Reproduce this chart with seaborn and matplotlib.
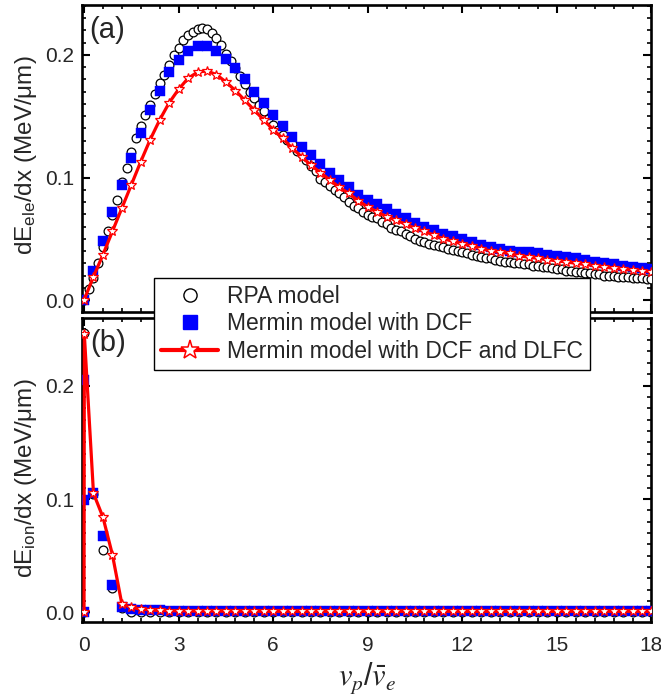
import numpy as np
import matplotlib
matplotlib.use("Agg")
import matplotlib.pyplot as plt
import seaborn as sns
from matplotlib.lines import Line2D
from matplotlib.ticker import MultipleLocator

# ---------------- data ----------------
# panel (a): electron stopping, RPA sampled every 0.15, Mermin curves every 0.3
rpa_ele = [
    0.000, 0.009, 0.018, 0.030, 0.043, 0.056, 0.069, 0.082, 0.096, 0.108,
    0.121, 0.132, 0.142, 0.151, 0.159, 0.168, 0.177, 0.184, 0.192, 0.200,
    0.206, 0.212, 0.216, 0.219, 0.221, 0.222, 0.221, 0.218, 0.214, 0.208,
    0.201, 0.195, 0.189, 0.183, 0.176, 0.170, 0.165, 0.159, 0.154, 0.148,
    0.143, 0.139, 0.135, 0.131, 0.127, 0.122, 0.119, 0.114, 0.109, 0.105,
    0.099, 0.096, 0.093, 0.090, 0.087, 0.084, 0.080, 0.077, 0.075, 0.072,
    0.069, 0.068, 0.067, 0.064, 0.062, 0.059, 0.057, 0.056, 0.054, 0.052,
    0.050, 0.048, 0.047, 0.046, 0.045, 0.044, 0.043, 0.042, 0.041, 0.040,
    0.039, 0.038, 0.037, 0.036, 0.035, 0.034, 0.034, 0.033, 0.032, 0.031,
    0.031, 0.030, 0.030, 0.029, 0.029, 0.028, 0.028, 0.027, 0.027, 0.026,
    0.025, 0.025, 0.024, 0.024, 0.023, 0.023, 0.022, 0.022, 0.021, 0.021,
    0.020, 0.020, 0.020, 0.019, 0.019, 0.019, 0.018, 0.018, 0.018, 0.017,
    0.017,
]
mermin_ele = [
    0.000, 0.024, 0.048, 0.072, 0.094, 0.116, 0.136, 0.155, 0.171, 0.186,
    0.196, 0.203, 0.207, 0.207, 0.203, 0.197, 0.189, 0.180, 0.170, 0.161,
    0.151, 0.142, 0.133, 0.125, 0.118, 0.111, 0.104, 0.098, 0.092, 0.086,
    0.082, 0.078, 0.074, 0.070, 0.067, 0.063, 0.060, 0.057, 0.054, 0.052,
    0.0495, 0.047, 0.045, 0.0435, 0.042, 0.040, 0.0395, 0.039, 0.038, 0.037,
    0.036, 0.035, 0.034, 0.033, 0.031, 0.030, 0.029, 0.028, 0.027, 0.026,
    0.025,
]
dlfc_ele = [
    0.000, 0.019, 0.037, 0.056, 0.075, 0.094, 0.113, 0.131, 0.147, 0.161,
    0.172, 0.181, 0.186, 0.187, 0.184, 0.178, 0.171, 0.163, 0.155, 0.147,
    0.139, 0.132, 0.124, 0.117, 0.110, 0.104, 0.098, 0.092, 0.087, 0.081,
    0.076, 0.072, 0.068, 0.065, 0.062, 0.0585, 0.056, 0.053, 0.050, 0.048,
    0.046, 0.044, 0.042, 0.040, 0.039, 0.038, 0.036, 0.035, 0.034, 0.033,
    0.032, 0.031, 0.030, 0.029, 0.028, 0.027, 0.026, 0.025, 0.0245, 0.024,
    0.023,
]
x_rpa_ele = np.round(np.arange(len(rpa_ele)) * 0.15, 2)
x_mer_ele = np.round(np.arange(len(mermin_ele)) * 0.3, 2)

# panel (b): ion stopping
x_ion_grid = list(np.round(np.arange(1, 61) * 0.3, 2))   # 0.3 ... 18.0
x_rpa_ion = [0.0, 0.01] + x_ion_grid
rpa_ion = [0.0, 0.246,
           0.104, 0.055, 0.022, 0.004, 0.0005, 0.0, 0.0, 0.0, 0.0, 0.0,
           0.0, 0.0, 0.0, 0.0, 0.0, 0.0, 0.0, 0.0, 0.0, 0.0,
           0.0, 0.0, 0.0, 0.0, 0.0, 0.0, 0.0, 0.0, 0.0, 0.0,
           0.0, 0.0, 0.0, 0.0, 0.0, 0.0, 0.0, 0.0, 0.0, 0.0,
           0.0, 0.0, 0.0, 0.0, 0.0, 0.0, 0.0, 0.0, 0.0, 0.0,
           0.0, 0.0, 0.0, 0.0, 0.0, 0.0, 0.0, 0.0, 0.0, 0.0]
x_mer_ion = [0.0, 0.005, 0.01] + x_ion_grid
mermin_ion = [0.0, 0.099, 0.205,
              0.105, 0.067, 0.0245, 0.005, 0.003, 0.0025, 0.002, 0.0018, 0.0016, 0.0015,
              0.0014, 0.0013, 0.0013, 0.0012, 0.0012, 0.0012, 0.0011, 0.0011, 0.0011, 0.0011,
              0.0010, 0.0010, 0.0010, 0.0010, 0.0010, 0.0010, 0.0010, 0.0010, 0.0010, 0.0010,
              0.0010, 0.0010, 0.0010, 0.0010, 0.0010, 0.0010, 0.0010, 0.0010, 0.0010, 0.0010,
              0.0010, 0.0010, 0.0010, 0.0010, 0.0010, 0.0010, 0.0010, 0.0010, 0.0010, 0.0010,
              0.0010, 0.0010, 0.0010, 0.0010, 0.0010, 0.0010, 0.0010, 0.0010, 0.0010, 0.0010]
x_dlfc_ion = [0.0, 0.01] + x_ion_grid
dlfc_ion = [0.0, 0.245,
            0.105, 0.084, 0.051, 0.0075, 0.0045, 0.003, 0.0022, 0.0018, 0.0015, 0.0014,
            0.0013, 0.0012, 0.0012, 0.0012, 0.0011, 0.0011, 0.0011, 0.0011, 0.0010, 0.0010,
            0.0010, 0.0010, 0.0010, 0.0010, 0.0010, 0.0010, 0.0010, 0.0010, 0.0010, 0.0010,
            0.0010, 0.0010, 0.0010, 0.0010, 0.0010, 0.0010, 0.0010, 0.0010, 0.0010, 0.0010,
            0.0010, 0.0010, 0.0010, 0.0010, 0.0010, 0.0010, 0.0010, 0.0010, 0.0010, 0.0010,
            0.0010, 0.0010, 0.0010, 0.0010, 0.0010, 0.0010, 0.0010, 0.0010, 0.0010, 0.0010]

labels = ["RPA model", "Mermin model with DCF", "Mermin model with DCF and DLFC"]
x_ticks = [0, 3, 6, 9, 12, 15, 18]

# ---------------- style ----------------
sns.set_theme(style="ticks")
plt.rcParams["font.family"] = ["Liberation Sans", "DejaVu Sans"]
plt.rcParams["mathtext.default"] = "regular"

BLUE = "#0000FF"
RED = "#FF0000"

fig = plt.figure(figsize=(6.61, 6.96), dpi=100)
ax1 = fig.add_axes([0.1233, 0.5517, 0.8623, 0.4411])
ax2 = fig.add_axes([0.1233, 0.1063, 0.8623, 0.4368])


def draw(ax, xr, yr, xm, ym, xd, yd):
    sns.scatterplot(x=xr, y=yr, ax=ax, marker="o", s=40, facecolor="white",
                    edgecolor="black", linewidth=0.9, zorder=3)
    sns.scatterplot(x=xm, y=ym, ax=ax, marker="s", s=48, color=BLUE,
                    edgecolor=BLUE, linewidth=0.3, zorder=4)
    sns.lineplot(x=xd, y=yd, ax=ax, color=RED, lw=2.3, marker="*",
                 markersize=7.5, markerfacecolor="white", markeredgecolor=RED,
                 markeredgewidth=0.9, errorbar=None, zorder=5)
    for ln in ax.lines:
        ln.set_markerfacecolor("white")
        ln.set_markeredgecolor(RED)


draw(ax1, x_rpa_ele, rpa_ele, x_mer_ele, mermin_ele, x_mer_ele, dlfc_ele)
draw(ax2, x_rpa_ion, rpa_ion, x_mer_ion, mermin_ion, x_dlfc_ion, dlfc_ion)

for ax in (ax1, ax2):
    ax.set_xlim(-0.08, 18)
    ax.set_xticks(x_ticks)
    ax.xaxis.set_minor_locator(MultipleLocator(0.6))
    ax.yaxis.set_major_locator(MultipleLocator(0.1))
    ax.yaxis.set_minor_locator(MultipleLocator(0.01))
    ax.yaxis.set_major_formatter(matplotlib.ticker.FormatStrFormatter("%.1f"))
    ax.tick_params(which="both", direction="in", top=True, right=True,
                   labelsize=15, width=1.5, color="black")
    ax.tick_params(which="major", length=6, pad=5)
    ax.tick_params(which="minor", length=3.2, width=1.2)
    ax.tick_params(axis="x", which="major", pad=10)
    for sp in ax.spines.values():
        sp.set_linewidth(1.9)
        sp.set_color("black")
    ax.set_xlabel("")
    ax.set_ylabel("")

ax1.set_ylim(-0.0098, 0.2408)
ax2.set_ylim(-0.0084, 0.2595)
ax1.tick_params(labelbottom=False)

ax1.text(0.013, 0.965, "(a)", transform=ax1.transAxes, fontsize=21,
         ha="left", va="top")
ax2.text(0.015, 0.965, "(b)", transform=ax2.transAxes, fontsize=21,
         ha="left", va="top")

fig.text(26 / 661, 1 - 155 / 696, "dE$_{ele}$/dx (MeV/μm)", rotation=90,
         fontsize=17.5, ha="center", va="center")
fig.text(26 / 661, 1 - 478 / 696, "dE$_{ion}$/dx (MeV/μm)", rotation=90,
         fontsize=17.5, ha="center", va="center")
fig.text(367 / 661, 1 - 678 / 696,
         r"$\mathit{v}_{\mathit{p}}/\bar{\mathit{v}}_{\mathit{e}}$",
         fontsize=22, ha="center", va="center", math_fontfamily="stix")

handles = [
    Line2D([], [], ls="none", marker="o", markersize=9.5, markerfacecolor="white",
           markeredgecolor="black", markeredgewidth=1.0),
    Line2D([], [], ls="none", marker="s", markersize=10, markerfacecolor=BLUE,
           markeredgecolor=BLUE),
    Line2D([], [], color=RED, lw=3, marker="*", markersize=14,
           markerfacecolor="white", markeredgecolor=RED, markeredgewidth=1.1),
]
leg = fig.legend(handles, labels, loc="upper left",
                 bbox_to_anchor=(154 / 661, 1 - 278 / 696), borderaxespad=0,
                 fontsize=16.5, frameon=True, fancybox=False, framealpha=1,
                 edgecolor="black", handlelength=2.5, handletextpad=0.4,
                 labelspacing=0.2, borderpad=0.3)
leg.get_frame().set_linewidth(1.0)
leg.set_zorder(10)

fig.savefig("out.png", dpi=100)
